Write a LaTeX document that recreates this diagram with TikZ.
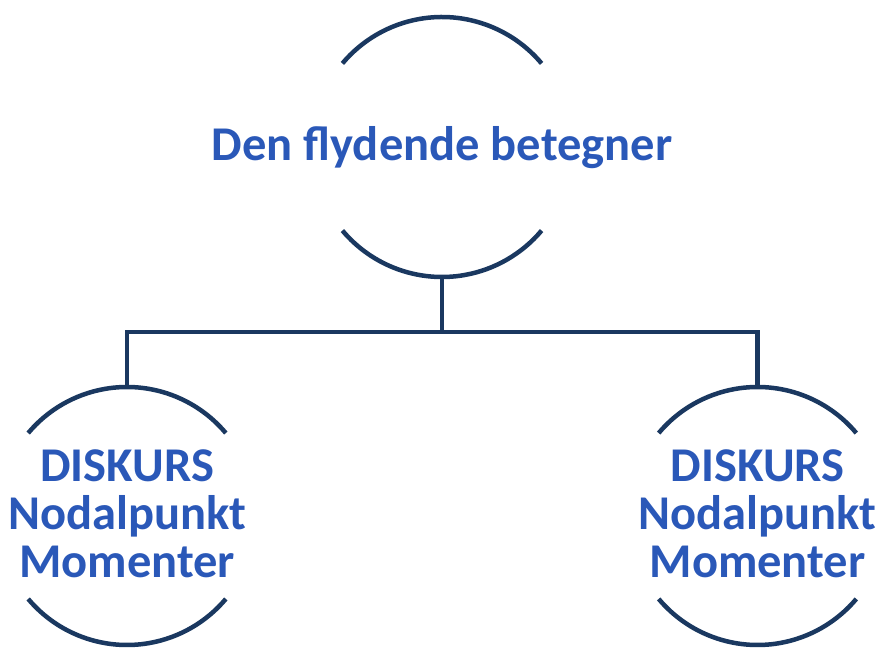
\documentclass[tikz,border=0pt]{standalone}
\usepackage{fontspec}
\setmainfont{Carlito}
\definecolor{linec}{RGB}{26,56,96}
\definecolor{textc}{RGB}{42,88,184}
\tikzset{
  ring/.style={circle, draw=none, minimum size=#1, inner sep=0pt, outer sep=0pt},
  conn/.style={draw=linec, line width=4.5pt},
  label/.style={text=textc, font=\bfseries\fontsize{48.5}{48}\selectfont, align=center, inner sep=0pt}
}
\begin{document}
\begin{tikzpicture}[x=1pt,y=1pt]
\useasboundingbox (0,0) rectangle (879,648);
\node[ring=260pt] (top) at (442,501) {};
\node[ring=258pt] (left) at (127,132) {};
\node[ring=258pt] (right) at (757.5,132) {};
% arcs
\draw[conn] (top.40) arc (40:140:130pt);
\draw[conn] (top.220) arc (220:320:130pt);
\draw[conn] (left.40) arc (40:140:129pt);
\draw[conn] (left.220) arc (220:320:129pt);
\draw[conn] (right.40) arc (40:140:129pt);
\draw[conn] (right.220) arc (220:320:129pt);
% connectors
\coordinate (j) at (442,316);
\draw[conn] (top.south) -- (j);
\draw[conn] (left.north) |- (j) -| (right.north);
% texts
\node[label] (toptext) at (442,500) {Den flydende betegner};
\node[label] (lefttext) at (127,134) {DISKURS\\Nodalpunkt\\Momenter};
\node[label] (righttext) at (757.5,134) {DISKURS\\Nodalpunkt\\Momenter};
\end{tikzpicture}
\end{document}
